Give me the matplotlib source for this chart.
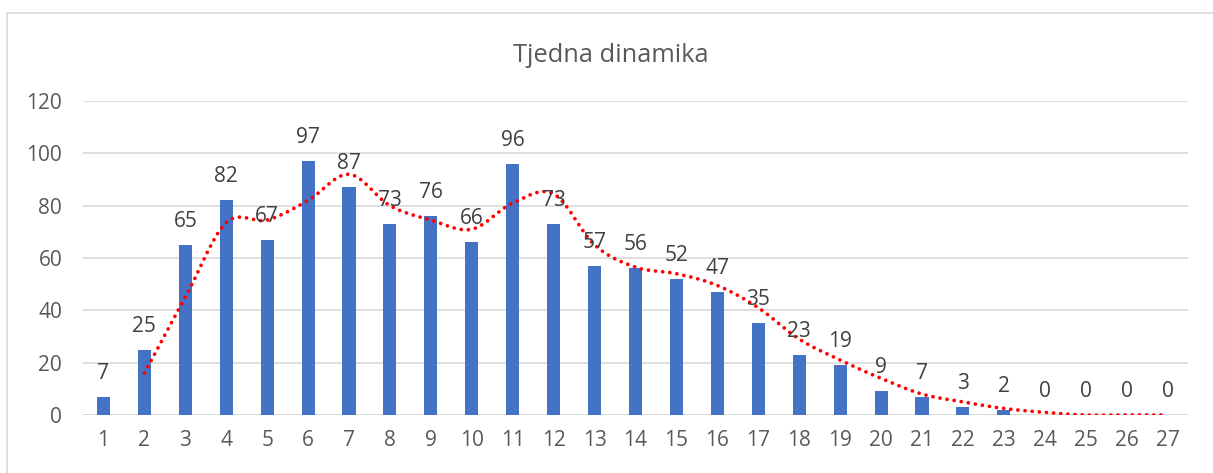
import numpy as np
import matplotlib.pyplot as plt

weeks = list(range(1, 28))
counts = [7, 25, 65, 82, 67, 97, 87, 73, 76, 66, 96, 73, 57, 56, 52, 47, 35, 23, 19, 9, 7, 3, 2, 0, 0, 0, 0]
# trend line (2-period moving average), starts at week 2
trend_weeks = list(range(2, 28))
trend_values = [16, 45, 73.5, 74.5, 82, 92, 80, 74.5, 71, 81, 84.5, 65, 56.5, 54, 49.5, 41,
                29, 21, 14, 8, 5, 2.5, 1, 0, 0, 0]
y_ticks = [0, 20, 40, 60, 80, 100, 120]
title = "Tjedna dinamika"

plt.rcParams['font.family'] = ['Open Sans', 'DejaVu Sans']

W, H = 1213, 473


def smooth(xs, ys, n=20):
    # Catmull-Rom style smoothing, like Excel's smoothed line
    xs = np.asarray(xs, float)
    ys = np.asarray(ys, float)
    px = np.concatenate([[2 * xs[0] - xs[1]], xs, [2 * xs[-1] - xs[-2]]])
    py = np.concatenate([[2 * ys[0] - ys[1]], ys, [2 * ys[-1] - ys[-2]]])
    out_x, out_y = [], []
    t = np.linspace(0, 1, n, endpoint=False)
    for i in range(1, len(px) - 2):
        for p, out in ((px, out_x), (py, out_y)):
            p0, p1, p2, p3 = p[i - 1], p[i], p[i + 1], p[i + 2]
            out.extend(0.5 * (2 * p1 + (-p0 + p2) * t + (2 * p0 - 5 * p1 + 4 * p2 - p3) * t ** 2
                              + (-p0 + 3 * p1 - 3 * p2 + p3) * t ** 3))
    out_x.append(xs[-1])
    out_y.append(ys[-1])
    return out_x, out_y


fig = plt.figure(figsize=(W / 100, H / 100), dpi=100)
# plot area: x 83..1188 px, y 415 (0) .. 101 (120)
ax = fig.add_axes([83 / W, 1 - 415 / H, (1188 - 83) / W, (415 - 101) / H])

ax.bar(weeks, counts, width=0.32, color="#4472C4", zorder=2)
for w, c in zip(weeks, counts):
    ax.text(w, c + 5, str(c), ha="center", va="bottom", fontsize=15, color="#404040", zorder=4)

sx, sy = smooth(trend_weeks, trend_values)
ax.plot(sx, sy, color="#FF0000", linestyle=(0, (0.01, 1.9)), linewidth=2.7,
        dash_capstyle="round", solid_capstyle="round", zorder=3)

ax.set_xlim(0.5, 27.5)
ax.set_ylim(0, 120)
ax.set_xticks(weeks)
ax.set_yticks(y_ticks)
ax.tick_params(axis="both", length=0, labelsize=15, labelcolor="#595959")
ax.tick_params(axis="x", pad=11)
ax.tick_params(axis="y", pad=15)
ax.grid(axis="y", color="#D9D9D9", linewidth=1.2, zorder=0)
for s in ax.spines.values():
    s.set_visible(False)
ax.axhline(0, color="#D9D9D9", linewidth=1.2, zorder=1)

fig.text(611 / W, 1 - 55 / H, title, ha="center", va="center", fontsize=18.3, color="#595959")

# chart border (top and left edges visible)
fig.add_artist(plt.Line2D([7 / W, 7 / W, 1.0], [0.0, 1 - 13 / H, 1 - 13 / H],
                          transform=fig.transFigure, color="#D9D9D9", linewidth=1.2))

fig.savefig("out.png", dpi=100)
